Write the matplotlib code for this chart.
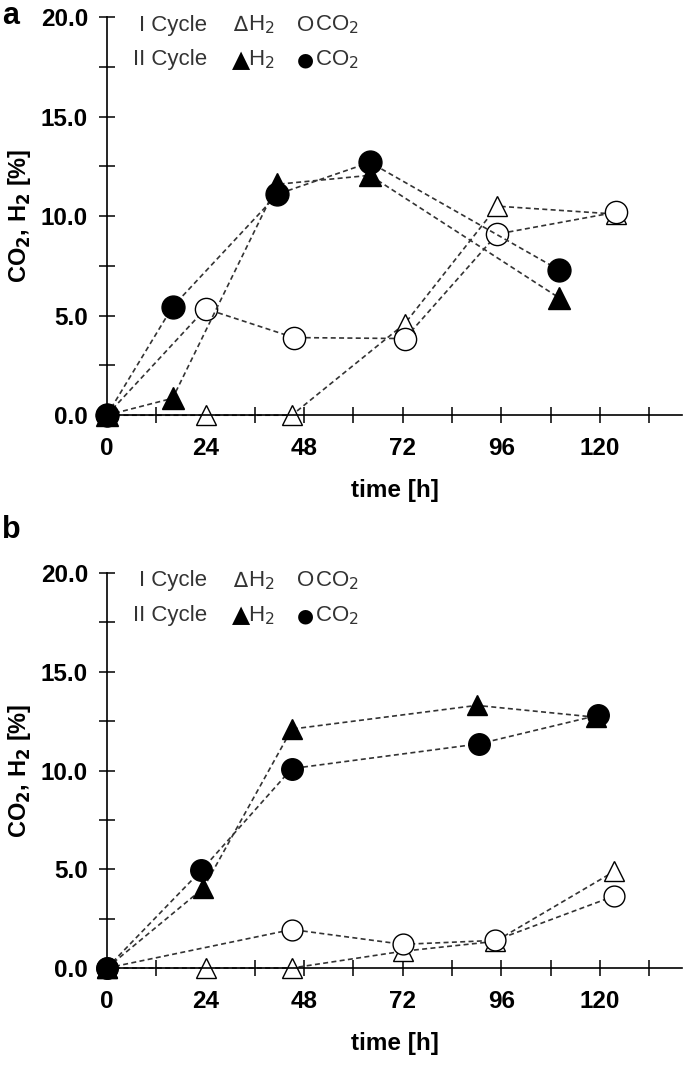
import matplotlib
matplotlib.use("Agg")
import matplotlib.pyplot as plt
from matplotlib.ticker import MultipleLocator, FormatStrFormatter

plt.rcParams['font.family'] = ['Liberation Sans', 'DejaVu Sans']

# panel a
a_t1_h2 = [0, 24, 45, 72.5, 95, 124]
a_h2_1 = [0, 0, 0, 4.6, 10.5, 10.1]
a_t1_co2 = [0, 24, 45.5, 72.5, 95, 124]
a_co2_1 = [0, 5.35, 3.9, 3.85, 9.1, 10.2]
a_t2 = [0, 16, 41.5, 64, 110]
a_h2_2 = [0, 0.85, 11.6, 12.05, 5.9]
a_co2_2 = [0, 5.45, 11.1, 12.7, 7.3]

# panel b
b_t1_h2 = [0, 24, 45, 72, 94.5, 123.5]
b_h2_1 = [0, 0, 0, 0.85, 1.35, 4.9]
b_t1_co2 = [0, 45, 72, 94.5, 123.5]
b_co2_1 = [0, 1.95, 1.2, 1.4, 3.65]
b_t2_h2 = [0, 23.5, 45, 90, 119]
b_h2_2 = [0, 4.05, 12.1, 13.3, 12.7]
b_t2_co2 = [0, 23, 45, 90.5, 119.5]
b_co2_2 = [0, 4.95, 10.1, 11.35, 12.8]

x_labels = [0, 24, 48, 72, 96, 120]

fig = plt.figure(figsize=(6.85, 10.66), dpi=100)
ax_a = fig.add_axes([0.156, 0.6105, 0.84, 0.3735])
ax_b = fig.add_axes([0.156, 0.0919, 0.84, 0.3705])

line_kw = dict(color="#333333", lw=1.2, linestyle=(0, (3, 2)), clip_on=False)


def draw(ax, series):
    for t, v, m, fc, ms in series:
        ax.plot(t, v, marker=m, markerfacecolor=fc, markeredgecolor="black",
                markeredgewidth=1.0, markersize=ms, **line_kw)


draw(ax_a, [
    (a_t1_h2, a_h2_1, "^", "white", 15),
    (a_t1_co2, a_co2_1, "o", "white", 16),
    (a_t2, a_h2_2, "^", "black", 15.5),
    (a_t2, a_co2_2, "o", "black", 16.5),
])
draw(ax_b, [
    (b_t1_h2, b_h2_1, "^", "white", 14.5),
    (b_t1_co2, b_co2_1, "o", "white", 15),
    (b_t2_h2, b_h2_2, "^", "black", 14),
    (b_t2_co2, b_co2_2, "o", "black", 15.5),
])

for ax, letter in [(ax_a, "a"), (ax_b, "b")]:
    ax.set_xlim(0, 140)
    ax.set_ylim(0, 20)
    for s in ["top", "right"]:
        ax.spines[s].set_visible(False)
    for s in ["left", "bottom"]:
        ax.spines[s].set_linewidth(1.2)
    ax.set_xticks(range(0, 133, 12))
    ax.set_xticklabels([str(v) if v in x_labels else "" for v in range(0, 133, 12)])
    ax.yaxis.set_major_locator(MultipleLocator(5))
    ax.yaxis.set_minor_locator(MultipleLocator(2.5))
    ax.yaxis.set_major_formatter(FormatStrFormatter("%.1f"))
    ax.tick_params(axis="both", which="both", direction="inout", length=11, width=1.1)
    ax.tick_params(axis="y", labelsize=17.5, pad=8)
    ax.tick_params(axis="x", labelsize=17.5, pad=10)
    for lab in ax.get_xticklabels() + ax.get_yticklabels():
        lab.set_fontweight("bold")
    ax.set_xlabel("time [h]", fontsize=17.5, fontweight="bold", labelpad=14)
    ax.set_ylabel("CO$_\\mathbf{2}$, H$_\\mathbf{2}$ [%]", fontsize=17, fontweight="bold", labelpad=6)
    ax.set_facecolor("none")

    # text legend
    lk = dict(fontsize=16, color="#333333", va="center")
    sym = dict(ha="left", family="DejaVu Sans", va="center")
    ax.text(24.3, 19.6, "I Cycle", ha="right", **lk)
    ax.text(24.3, 17.85, "II Cycle", ha="right", **lk)
    ax.text(30.7, 19.6, "∆", fontsize=15, color="#333333", **sym)
    ax.text(34.4, 19.6, "H$_2$", ha="left", **lk)
    ax.text(30.5, 17.85, "▲", fontsize=17, color="black", **sym)
    ax.text(34.4, 17.85, "H$_2$", ha="left", **lk)
    ax.text(46.3, 19.6, "O", ha="left", **lk)
    ax.text(50.6, 19.6, "CO$_2$", ha="left", **lk)
    ax.text(46.3, 17.85, "●", fontsize=14, color="black", **sym)
    ax.text(50.6, 17.85, "CO$_2$", ha="left", **lk)

fig.text(0.003, 0.985, "a", fontsize=22, fontweight="bold", va="center")
fig.text(0.003, 0.503, "b", fontsize=22, fontweight="bold", va="center")

fig.savefig("out.png", dpi=100)
